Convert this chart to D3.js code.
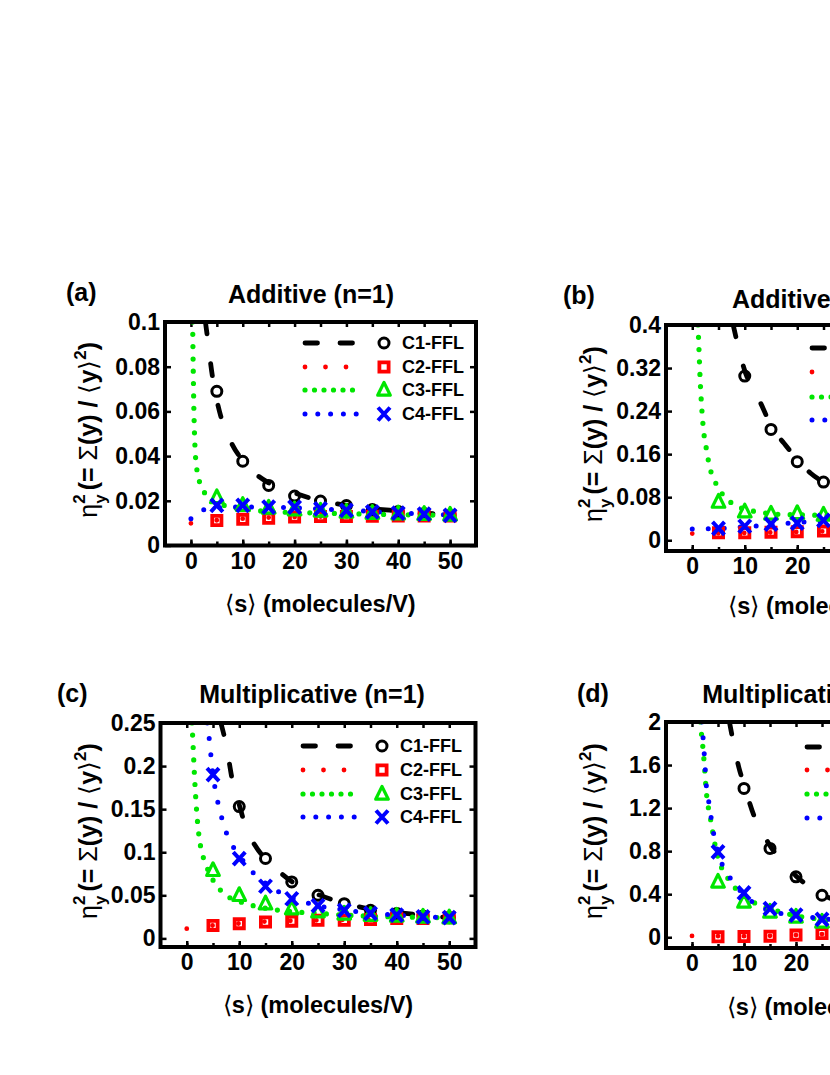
<!DOCTYPE html>
<html>
<head>
<meta charset="utf-8">
<script src="https://cdnjs.cloudflare.com/ajax/libs/d3/7.8.5/d3.min.js"></script>
<style>
  body { margin: 0; background: #fff; }
  svg { font-family: 'Liberation Sans', Arial, sans-serif; font-weight: bold; }
</style>
</head>
<body>
<script>
'use strict';

// shared
const simS = [5, 10, 15, 20, 25, 30, 35, 40, 45, 50];
const xTickValues = [0, 10, 20, 30, 40, 50];
const xMinorValues = [0, 5, 10, 15, 20, 25, 30, 35, 40, 45, 50];
const seriesLabels = ['C1-FFL', 'C2-FFL', 'C3-FFL', 'C4-FFL'];

// (a) Additive (n=1)
const aYTicks = [0, 0.02, 0.04, 0.06, 0.08, 0.1];
const aC1 = [0.069, 0.0377, 0.0269, 0.0221, 0.0199, 0.0179, 0.0161, 0.0152, 0.0143, 0.0135];
const aC2 = [0.0112, 0.0117, 0.0122, 0.0127, 0.013, 0.013, 0.0131, 0.0132, 0.0132, 0.0132];
const aC3 = [0.0215, 0.018, 0.0168, 0.016, 0.0155, 0.015, 0.0145, 0.0142, 0.014, 0.0137];
const aC4 = [0.018, 0.018, 0.0172, 0.0172, 0.0164, 0.0157, 0.015, 0.0145, 0.014, 0.0135];
const aC1Line = [[2.8, 0.1], [3.2, 0.093], [4, 0.078], [5, 0.065], [6, 0.056], [7, 0.05], [8, 0.045], [10, 0.038],
  [12, 0.033], [15, 0.028], [20, 0.0235], [25, 0.02], [30, 0.018], [35, 0.0165], [40, 0.0155], [45, 0.0145], [50, 0.014]];
const aC2Line = [[0, 0.0099], [5, 0.0113], [10, 0.012], [15, 0.0125], [20, 0.0128], [30, 0.013], [40, 0.0131], [50, 0.0132]];
const aC3Line = [[0.33, 0.1], [0.58, 0.06], [0.77, 0.045], [1.1, 0.035], [1.6, 0.029], [2.4, 0.0247], [3.3, 0.021],
  [5, 0.019], [7.8, 0.0172], [12, 0.0158], [17, 0.015], [25, 0.0145], [35, 0.014], [50, 0.0135]];
const aC4Line = [[0, 0.012], [1, 0.0145], [2.5, 0.016], [5, 0.017], [10, 0.0172], [15, 0.0171], [20, 0.0168],
  [30, 0.0158], [40, 0.0146], [50, 0.0137]];

// (b) Additive (n=2)
const bYTicks = [0, 0.08, 0.16, 0.24, 0.32, 0.4];
const bC1 = [null, 0.305, 0.206, 0.146, 0.108, 0.085, 0.07, 0.06, 0.053, 0.047];
const bC2 = [0.014, 0.014, 0.015, 0.016, 0.017, 0.018, 0.018, 0.019, 0.019, 0.02];
const bC3 = [0.071, 0.053, 0.049, 0.05, 0.047, 0.044, 0.042, 0.041, 0.04, 0.039];
const bC4 = [0.022, 0.026, 0.03, 0.032, 0.037, 0.039, 0.042, 0.044, 0.046, 0.048];
const bC1Line = [[7.8, 0.4], [9, 0.35], [10, 0.315], [12, 0.275], [13.5, 0.245], [15, 0.212], [17.5, 0.18], [20, 0.15],
  [22.5, 0.125], [25, 0.108], [30, 0.085], [35, 0.07], [40, 0.06], [45, 0.053], [50, 0.047]];
const bC2Line = [[0, 0.0124], [10, 0.0135], [20, 0.0155], [30, 0.0175], [40, 0.019], [50, 0.02]];
const bC3Line = [[1.1, 0.4], [1.3, 0.35], [1.5, 0.3], [1.85, 0.24], [2.2, 0.2], [2.6, 0.175], [3.4, 0.133], [4.2, 0.112],
  [5.3, 0.092], [6.9, 0.074], [8.8, 0.062], [13, 0.052], [17, 0.048], [22, 0.047], [30, 0.044], [40, 0.041], [50, 0.039]];
const bC4Line = [[0, 0.021], [5, 0.022], [10, 0.025], [15, 0.029], [20, 0.033], [25, 0.036], [30, 0.039], [40, 0.044], [50, 0.048]];

// (c) Multiplicative (n=1)
const cYTicks = [0, 0.05, 0.1, 0.15, 0.2, 0.25];
const cC1 = [null, 0.153, 0.0927, 0.0655, 0.05, 0.0403, 0.0326, 0.029, 0.026, 0.024];
const cC2 = [0.0151, 0.0171, 0.019, 0.02, 0.021, 0.021, 0.022, 0.023, 0.023, 0.024];
const cC3 = [0.079, 0.05, 0.0403, 0.0345, 0.031, 0.0285, 0.027, 0.026, 0.025, 0.024];
const cC4 = [0.19, 0.0927, 0.0605, 0.046, 0.038, 0.0326, 0.029, 0.027, 0.025, 0.024];
const cC1Line = [[6.5, 0.25], [7.5, 0.225], [8.8, 0.18], [10, 0.155], [11.3, 0.128], [13, 0.108], [15, 0.092],
  [17.5, 0.078], [20, 0.066], [25, 0.051], [30, 0.041], [35, 0.034], [40, 0.03], [45, 0.027], [50, 0.024]];
const cC2Line = [[0, 0.0113], [2.5, 0.0135], [5, 0.015], [8.5, 0.0165], [12, 0.0185], [17, 0.02], [25, 0.021], [35, 0.022], [50, 0.023]];
const cC3Line = [[1, 0.25], [1.2, 0.225], [1.4, 0.198], [1.8, 0.155], [2.2, 0.126], [2.6, 0.108], [3.2, 0.093], [3.8, 0.083],
  [4.6, 0.072], [5.5, 0.063], [7.5, 0.05], [10, 0.043], [12, 0.039], [15, 0.035], [20, 0.031], [25, 0.029], [30, 0.027], [40, 0.025], [50, 0.024]];
const cC4Line = [[3.9, 0.25], [4.4, 0.225], [4.7, 0.206], [5.6, 0.167], [6.3, 0.149], [7.1, 0.13], [8.1, 0.115], [10, 0.096],
  [11.4, 0.085], [13, 0.074], [15, 0.064], [17.5, 0.054], [20, 0.047], [25, 0.038], [30, 0.033], [40, 0.027], [50, 0.024]];

// (d) Multiplicative (n=2)
const dYTicks = [0, 0.4, 0.8, 1.2, 1.6, 2];
const dC1 = [null, 1.383, 0.825, 0.561, 0.39, 0.3, 0.23, 0.18, 0.15, 0.13];
const dC2 = [0.004, 0.006, 0.01, 0.02, 0.034, 0.045, 0.055, 0.065, 0.075, 0.085];
const dC3 = [0.514, 0.328, 0.235, 0.189, 0.142, 0.12, 0.105, 0.095, 0.085, 0.08];
const dC4 = [0.794, 0.412, 0.266, 0.205, 0.165, 0.14, 0.12, 0.105, 0.095, 0.085];
const dC1Line = [[7.2, 2], [8, 1.8], [9, 1.58], [10, 1.42], [12, 1.12], [13.5, 0.98], [15, 0.85], [17.5, 0.7], [20, 0.57],
  [25, 0.4], [30, 0.3], [35, 0.23], [40, 0.18], [45, 0.15], [50, 0.13]];
const dC2Line = [[0, 0.012], [10, 0.01], [20, 0.02], [30, 0.04], [40, 0.06], [50, 0.08]];
const dC3Line = [[1.6, 2], [1.8, 1.9], [2.1, 1.76], [2.5, 1.52], [2.7, 1.38], [3, 1.25], [3.45, 1.13], [3.8, 1.03], [4.5, 0.84],
  [5.25, 0.7], [6.35, 0.59], [7.6, 0.5], [10, 0.38], [12.4, 0.31], [15, 0.265], [20, 0.2], [25, 0.165], [30, 0.14], [40, 0.11], [50, 0.09]];
const dC4Line = [[1.9, 2], [2.06, 1.9], [2.3, 1.74], [2.5, 1.6], [2.7, 1.44], [3.13, 1.29], [3.6, 1.135], [4.1, 0.98],
  [5.7, 0.69], [7, 0.577], [10.8, 0.36], [14.7, 0.25], [22, 0.19], [30, 0.15], [40, 0.12], [50, 0.1]];

const styles = [
  {color: '#000000', width: 4.8, dash: '12,30', legendDash: '12.5,22.5', marker: 'circle', markerWidth: 3},
  {color: '#ff0000', width: 4.8, dash: '0,26', legendDash: '0,20.5', marker: 'square', markerWidth: 3.8},
  {color: '#00e600', width: 5.2, dash: '0,12.3', legendDash: '0,9.5', marker: 'triangle', markerWidth: 3.2},
  {color: '#0000ff', width: 5, dash: '0,16', legendDash: '0,12.8', marker: 'cross', markerWidth: 4},
];

const markerPaths = {
  circle: 'M5,0A5,5 0 1,1 -5,0A5,5 0 1,1 5,0Z',
  square: 'M-4.6,-4.6H4.6V4.6H-4.6Z',
  triangle: 'M0,-7.5L6.3,5.2H-6.3Z',
  cross: 'M-6,-6.5L6,6.5M-6,6.5L6,-6.5',
};

const panels = [
  {tag: 'a', title: 'Additive (n=1)', left: 165, right: 476, top: 322, bottom: 545.5, yDomain: [0, 0.1],
    yTicks: aYTicks, markers: [aC1, aC2, aC3, aC4], lines: [aC1Line, aC2Line, aC3Line, aC4Line],
    letterX: 66, letterY: 301, titleX: 311, titleY: 303, yLabelX: 97, xLabelY: 612,
    legendX: 305, legendRows: [343, 367, 390, 414]},
  {tag: 'b', title: 'Additive (n=2)', left: 666, right: 981, top: 325, bottom: 551, yDomain: [-0.02, 0.4],
    yTicks: bYTicks, markers: [bC1, bC2, bC3, bC4], lines: [bC1Line, bC2Line, bC3Line, bC4Line],
    letterX: 563, letterY: 304, titleX: 815, titleY: 308, yLabelX: 602, xLabelY: 614,
    legendX: 812, legendRows: [348, 372, 397, 420]},
  {tag: 'c', title: 'Multiplicative (n=1)', left: 160.5, right: 475.5, top: 723, bottom: 947, yDomain: [-0.01, 0.25],
    yTicks: cYTicks, markers: [cC1, cC2, cC3, cC4], lines: [cC1Line, cC2Line, cC3Line, cC4Line],
    letterX: 57, letterY: 702, titleX: 312, titleY: 703, yLabelX: 97, xLabelY: 1013,
    legendX: 303, legendRows: [746, 770, 794, 817]},
  {tag: 'd', title: 'Multiplicative (n=2)', left: 666, right: 978, top: 722, bottom: 948, yDomain: [-0.1, 2],
    yTicks: dYTicks, markers: [dC1, dC2, dC3, dC4], lines: [dC1Line, dC2Line, dC3Line, dC4Line],
    letterX: 577, letterY: 702, titleX: 815, titleY: 703, yLabelX: 602, xLabelY: 1015,
    legendX: 807, legendRows: [747, 770, 794, 818]},
];

const svg = d3.select('body').append('svg')
  .attr('width', 830)
  .attr('height', 1075);

panels.forEach(function(p) { drawPanel(p); });

function styleAxis(g) {
  g.attr('font-family', null).attr('font-size', 23);
  g.select('.domain').remove();
  g.selectAll('.tick line').attr('stroke', '#000').attr('stroke-width', 2.5);
  g.selectAll('.tick text').attr('fill', '#000');
}

function drawPanel(p) {
  const x = d3.scaleLinear().domain([-5, 55]).range([p.left, p.right]);
  const y = d3.scaleLinear().domain(p.yDomain).range([p.bottom, p.top]);
  const g = svg.append('g');
  const clipId = 'clip-' + p.tag;

  g.append('clipPath').attr('id', clipId).append('rect')
    .attr('x', p.left)
    .attr('y', p.top)
    .attr('width', p.right - p.left)
    .attr('height', p.bottom - p.top);

  // axes: labelled ticks bottom/left, bare ticks top/right, all pointing inward
  g.append('g').attr('transform', 'translate(0,' + p.bottom + ')')
    .call(d3.axisBottom(x).tickValues(xMinorValues).tickSize(-4).tickFormat(''))
    .call(styleAxis);
  g.append('g').attr('transform', 'translate(0,' + p.bottom + ')')
    .call(d3.axisBottom(x).tickValues(xTickValues).tickSize(-6).tickPadding(7).tickFormat(String))
    .call(styleAxis);
  g.append('g').attr('transform', 'translate(0,' + p.top + ')')
    .call(d3.axisTop(x).tickValues(xMinorValues).tickSize(-5).tickFormat(''))
    .call(styleAxis);
  g.append('g').attr('transform', 'translate(' + p.left + ',0)')
    .call(d3.axisLeft(y).tickValues(p.yTicks).tickSize(-6).tickPadding(5).tickFormat(String))
    .call(styleAxis);
  g.append('g').attr('transform', 'translate(' + p.right + ',0)')
    .call(d3.axisRight(y).tickValues(p.yTicks).tickSize(-6).tickFormat(''))
    .call(styleAxis);

  const plot = g.append('g').attr('clip-path', 'url(#' + clipId + ')');
  const line = d3.line()
    .x(function(d) { return x(d[0]); })
    .y(function(d) { return y(d[1]); })
    .curve(d3.curveMonotoneX);

  p.lines.forEach(function(pts, i) {
    plot.append('path')
      .datum(pts)
      .attr('d', line)
      .attr('fill', 'none')
      .attr('stroke', styles[i].color)
      .attr('stroke-width', styles[i].width)
      .attr('stroke-linecap', 'round')
      .attr('stroke-dasharray', styles[i].dash);
  });

  p.markers.forEach(function(vals, i) {
    const pts = simS.map(function(s, j) { return [s, vals[j]]; })
      .filter(function(d) { return d[1] !== null; });
    plot.selectAll(null)
      .data(pts)
      .enter().append('path')
      .attr('transform', function(d) { return 'translate(' + x(d[0]) + ',' + y(d[1]) + ')'; })
      .attr('d', markerPaths[styles[i].marker])
      .attr('fill', 'none')
      .attr('stroke', styles[i].color)
      .attr('stroke-width', styles[i].markerWidth)
      .attr('stroke-linejoin', styles[i].marker === 'triangle' ? 'round' : 'miter');
  });

  g.append('rect')
    .attr('x', p.left)
    .attr('y', p.top)
    .attr('width', p.right - p.left)
    .attr('height', p.bottom - p.top)
    .attr('fill', 'none')
    .attr('stroke', '#000')
    .attr('stroke-width', 4);

  // legend
  const legend = g.append('g');
  p.legendRows.forEach(function(ly, i) {
    legend.append('line')
      .attr('x1', p.legendX).attr('x2', p.legendX + 53)
      .attr('y1', ly).attr('y2', ly)
      .attr('stroke', styles[i].color)
      .attr('stroke-width', styles[i].width)
      .attr('stroke-linecap', 'round')
      .attr('stroke-dasharray', styles[i].legendDash);
    legend.append('path')
      .attr('transform', 'translate(' + (p.legendX + 79) + ',' + ly + ')')
      .attr('d', markerPaths[styles[i].marker])
      .attr('fill', 'none')
      .attr('stroke', styles[i].color)
      .attr('stroke-width', styles[i].markerWidth)
      .attr('stroke-linejoin', styles[i].marker === 'triangle' ? 'round' : 'miter');
    legend.append('text')
      .attr('x', p.legendX + 97)
      .attr('y', ly)
      .attr('dy', '0.36em')
      .attr('font-size', 18)
      .text(seriesLabels[i]);
  });

  // titles
  g.append('text')
    .attr('x', p.letterX).attr('y', p.letterY)
    .attr('font-size', 25)
    .text('(' + p.tag + ')');
  g.append('text')
    .attr('x', p.titleX).attr('y', p.titleY)
    .attr('text-anchor', 'middle')
    .attr('font-size', 25)
    .text(p.title);

  // x label
  const xl = g.append('text')
    .attr('x', (p.left + p.right) / 2)
    .attr('y', p.xLabelY)
    .attr('text-anchor', 'middle')
    .attr('font-size', 23.5);
  xl.append('tspan').attr('font-weight', 'normal').text('\u27E8');
  xl.append('tspan').text('s');
  xl.append('tspan').attr('font-weight', 'normal').text('\u27E9');
  xl.append('tspan').text(' (molecules/V)');

  // y label
  const yl = g.append('text')
    .attr('transform', 'translate(' + p.yLabelX + ',' + ((p.top + p.bottom) / 2 - 4) + ') rotate(-90)')
    .attr('text-anchor', 'middle')
    .attr('font-size', 25);
  yl.append('tspan').attr('font-weight', 'normal').text('\u03B7');
  yl.append('tspan').attr('font-size', 17).attr('dy', -12).text('2');
  yl.append('tspan').attr('font-size', 17).attr('dx', -9.5).attr('dy', 21).text('y');
  yl.append('tspan').attr('dx', 4).attr('dy', -9).text('(= ');
  yl.append('tspan').attr('font-weight', 'normal').text('\u03A3');
  yl.append('tspan').text('(y) / ');
  yl.append('tspan').attr('font-weight', 'normal').text('\u27E8');
  yl.append('tspan').text('y');
  yl.append('tspan').attr('font-weight', 'normal').text('\u27E9');
  yl.append('tspan').attr('font-size', 17).attr('dy', -11).text('2');
  yl.append('tspan').attr('dy', 11).text(')');
}
</script>
</body>
</html>
